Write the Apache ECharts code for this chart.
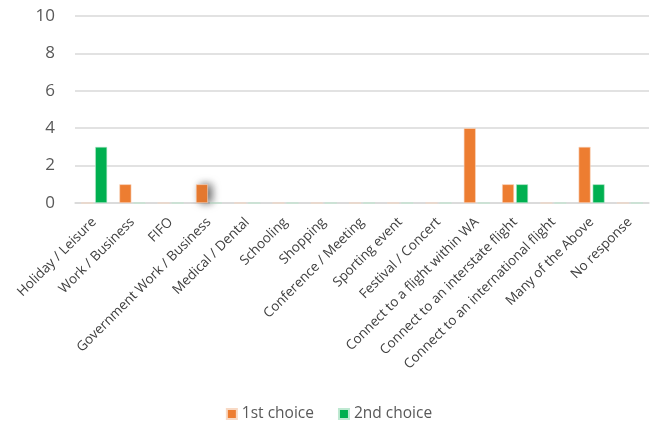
<!DOCTYPE html>
<html>
<head>
<meta charset="utf-8">
<script src="https://cdn.jsdelivr.net/npm/echarts@6/dist/echarts.min.js"></script>
<style>
  html, body { margin: 0; padding: 0; background: #fff; }
  #chart { width: 658px; height: 427px; }
</style>
</head>
<body>
<div id="chart"></div>
<script>
// Trip purpose categories along the x axis
const categories = [
  'Holiday / Leisure', 'Work / Business', 'FIFO', 'Government Work / Business',
  'Medical / Dental', 'Schooling', 'Shopping', 'Conference / Meeting',
  'Sporting event', 'Festival / Concert', 'Connect to a flight within WA',
  'Connect to an interstate flight', 'Connect to an international flight',
  'Many of the Above', 'No response'
];

// Response counts per choice
const firstChoice  = [0, 1, 0, 1, 0, 0, 0, 0, 0, 0, 4, 1, 0, 3, 0];
const secondChoice = [3, 0, 0, 0, 0, 0, 0, 0, 0, 0, 0, 1, 0, 1, 0];

const yTicks = { min: 0, max: 10, interval: 2 };

const textColor = '#595959';
const gridColor = '#d9d9d9';

// The Government Work bar carries a soft drop shadow
const firstData = firstChoice.map((v, i) => i === 3 ? {
  value: v,
  itemStyle: { shadowColor: 'rgba(0,0,0,0.6)', shadowBlur: 8, shadowOffsetX: 4, shadowOffsetY: 0 }
} : v);

const chart = echarts.init(document.getElementById('chart'), null, { renderer: 'canvas' });
chart.setOption({
  animation: false,
  textStyle: { fontFamily: 'Open Sans' },
  grid: { left: 75, right: 9, top: 16, bottom: 224, containLabel: false },
  legend: {
    bottom: 0,
    left: 'center',
    itemWidth: 10,
    itemHeight: 10,
    itemGap: 24,
    icon: 'rect',
    textStyle: { color: textColor, fontSize: 15.5, fontFamily: 'Open Sans' },
    data: ['1st choice', '2nd choice']
  },
  xAxis: {
    type: 'category',
    data: categories,
    axisLine: { show: true, lineStyle: { color: gridColor, width: 1.5 } },
    axisTick: { show: false },
    axisLabel: {
      interval: 0,
      rotate: 45,
      margin: 17,
      color: '#404040',
      fontSize: 13.5,
      fontFamily: 'Open Sans'
    }
  },
  yAxis: {
    type: 'value',
    min: yTicks.min,
    max: yTicks.max,
    interval: yTicks.interval,
    axisLine: { show: false },
    axisTick: { show: false },
    axisLabel: { color: textColor, fontSize: 17, margin: 20, fontFamily: 'Open Sans' },
    splitLine: { lineStyle: { color: gridColor, width: 1.5 } }
  },
  series: [
    {
      name: '1st choice',
      type: 'bar',
      data: firstData,
      barWidth: 12,
      barGap: '17%',
      itemStyle: { color: '#ED7D31', borderColor: '#f8d9c4', borderWidth: 0.6 }
    },
    {
      name: '2nd choice',
      type: 'bar',
      data: secondChoice,
      barWidth: 12,
      barGap: '17%',
      itemStyle: { color: '#00B050', borderColor: '#bfe9d2', borderWidth: 0.6 }
    }
  ]
});
</script>
</body>
</html>
